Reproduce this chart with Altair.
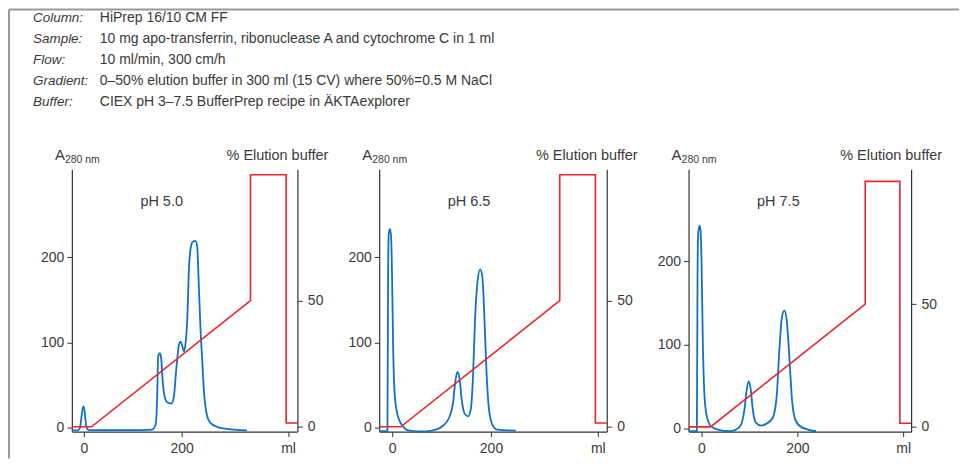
import altair as alt
import pandas as pd

FONT = "Liberation Sans"
BLUE = "#1271c4"
RED = "#e8262b"
INK = "#3a3a3a"

header_keys = ["Column:", "Sample:", "Flow:", "Gradient:", "Buffer:"]
header_values = [
    "HiPrep 16/10 CM FF",
    "10 mg apo-transferrin, ribonuclease A and cytochrome C in 1 ml",
    "10 ml/min, 300 cm/h",
    "0\u201350% elution buffer in 300 ml (15 CV) where 50%=0.5 M NaCl",
    "CIEX pH 3\u20137.5 BufferPrep recipe in \u00c4KTAexplorer",
]
panel_titles = ["pH 5.0", "pH 6.5", "pH 7.5"]
x_tick_labels = ["0", "200", "ml"]

# ---- pH 5.0 : A280 trace ----
p1_ml = [-24.5, -12, -8, -5, -2.5, -0.7, 1.5, 4, 7.5, 12, 60, 120, 140, 147, 150.3, 152, 155.8, 158.5,
         161.2, 165.3, 170.7, 179, 184.4, 187.8, 191, 194.6, 198, 201.4, 204.8, 208.2, 211.6, 215,
         218.4, 223, 228.6, 232, 235.4, 238.8, 242.2, 245.6, 252.4, 259, 272.8, 293, 320, 334]
p1_a = [-2.7, -2.7, 0, 12, 23, 25.4, 20, 6, -1.5, -2.5, -2.5, -2.5, -2, 4, 41, 83.7, 87.7, 80,
        56, 37, 30, 28.5, 37, 60, 80, 97.3, 101, 96, 89.6, 99, 126, 185,
        210, 218, 219, 212, 165, 115, 80, 44.6, 13.7, 6, 1.3, -1, -2.5, -2.7]

# ---- pH 6.5 ----
p2_ml = [-26, -9.4, -8.1, -6.7, -4, -2, 0, 2, 4.7, 8.8, 14.1, 20.9, 31, 47.8, 68, 88, 101.7, 115,
         123.2, 127.3, 132, 136.7, 140.8, 146.8, 153.5, 159, 163.6, 167.7, 172.4, 178, 182.5,
         186.6, 190.7, 196, 202.7, 212.8, 250]
p2_a = [-3.8, -3.8, 177, 227.8, 232.8, 224, 177, 99.2, 45, 21.5, 9.8, 2.8, -2.6, -3.9, -3.9, -2, 2, 11.7,
        29, 52, 65.5, 56.4, 33, 16.8, 13.7, 21.5, 60, 126.5, 169.4, 185.7, 177,
        130, 68, 21.5, 4, -2, -3]

# ---- pH 7.5 ----
p3_ml = [-27, -9.7, -8.3, -6.9, -4.2, -2.1, 0, 2.8, 5.6, 9.7, 15.3, 20, 34, 58, 72, 82.6, 89.6, 94.4,
         98.6, 102.8, 107, 113.9, 124.3, 134.7, 148.6, 156.9, 162.5, 168, 173, 177.8, 183.3, 188.9,
         195.8, 207.6, 239]
p3_a = [-3.2, -3.2, 181.7, 233.5, 242.7, 237.5, 201.7, 102, 46.5, 18.7, 6.7, 2.8, -1.2, -3.2, -1.2, 4.8, 22.7, 46.5,
        56.5, 46.5, 22.7, 6.8, 3.6, 5.6, 12.7, 38.5, 94.1, 133.9, 141, 130, 86, 34.5,
        10.7, 2, -3.2]

# ---- % elution buffer (gradient) ----
p1_grad_ml = [-24.5, 15.7, 341, 341, 414, 414, 437]
p1_grad_pct = [0, 0, 50, 100, 100, 1.5, 1.5]
p2_grad_ml = [-26, 17.5, 339, 339, 411, 411, 434]
p2_grad_pct = [0, 0, 50, 100, 100, 1.5, 1.5]
p3_grad_ml = [-27, 18.75, 341.7, 341.7, 414, 414, 437.5]
p3_grad_pct = [0, 0, 50, 100, 100, 1.5, 1.5]

ml_tick_pos = [418, 416, 421]
x_domains = [[-24.5, 437], [-26, 434], [-27, 437.5]]
a_domains = [[-4.2, 302.9], [-4.2, 302.9], [-3.6, 310.2]]
pct_domains = [[-1.9, 102.2], [-1.9, 102.2], [-1.9, 105.0]]
widths = [226, 228, 223]
H = 263

axis_common = dict(
    title=None, grid=False, labelFont=FONT, labelFontSize=14, labelColor=INK,
    domainColor="#333", tickColor="#333", tickSize=5, domainWidth=1.2, tickWidth=1,
    labelFlush=False, labelOverlap=False,
)


def one():
    return alt.Data(values=[{}])


def panel(k, ml, a, gml, gpct, title, header=False):
    w = widths[k]
    tick = ml_tick_pos[k]
    blue_df = pd.DataFrame({"ml": ml, "a": a, "i": range(len(ml))})
    red_df = pd.DataFrame({"ml": gml, "pct": gpct, "i": range(len(gml))})
    xs = alt.Scale(domain=x_domains[k], nice=False, zero=False)
    xaxis = alt.Axis(
        values=[0, 200, tick], labelPadding=5,
        labelExpr=f"datum.value == 0 ? '{x_tick_labels[0]}' : datum.value == 200 ? '{x_tick_labels[1]}' : '{x_tick_labels[2]}'",
        **axis_common,
    )
    blue = alt.Chart(blue_df).mark_line(color=BLUE, strokeWidth=1.8, interpolate="monotone").encode(
        x=alt.X("ml:Q", scale=xs, axis=xaxis),
        y=alt.Y("a:Q", scale=alt.Scale(domain=a_domains[k], nice=False, zero=False),
                axis=alt.Axis(orient="left", values=[0, 100, 200], labelPadding=3, **axis_common)),
        order="i:Q",
    )
    red = alt.Chart(red_df).mark_line(color=RED, strokeWidth=1.6).encode(
        x=alt.X("ml:Q", scale=xs),
        y=alt.Y("pct:Q", scale=alt.Scale(domain=pct_domains[k], nice=False, zero=False),
                axis=alt.Axis(orient="right", values=[0, 50], labelPadding=5, **axis_common)),
        order="i:Q",
    )
    a_lbl = alt.Chart(one()).mark_text(text="A", font=FONT, fontSize=15, color=INK, align="left",
                                        baseline="alphabetic").encode(x=alt.value(-17), y=alt.value(-9))
    sub_lbl = alt.Chart(one()).mark_text(text="280 nm", font=FONT, fontSize=10.5, color=INK, align="left",
                                          baseline="alphabetic").encode(x=alt.value(-7), y=alt.value(-6))
    pct_lbl = alt.Chart(one()).mark_text(text="% Elution buffer", font=FONT, fontSize=14.5, color=INK,
                                          align="right", baseline="alphabetic").encode(
        x=alt.value(w + 31), y=alt.value(-9))
    ph_lbl = alt.Chart(one()).mark_text(text=title, font=FONT, fontSize=14.5, color=INK, align="center",
                                         baseline="middle").encode(x=alt.value(90), y=alt.value(33))
    layers = [blue, red, a_lbl, sub_lbl, pct_lbl, ph_lbl]
    if header:
        keys = alt.Chart(one()).mark_text(text=header_keys, font=FONT, fontSize=13.5, fontStyle="italic",
                                           color=INK, align="left", baseline="alphabetic",
                                           lineHeight=21).encode(x=alt.value(-39), y=alt.value(-147.5))
        vals = alt.Chart(one()).mark_text(text=header_values, font=FONT, fontSize=14, color=INK,
                                           align="left", baseline="alphabetic",
                                           lineHeight=21).encode(x=alt.value(28), y=alt.value(-147.5))
        top = alt.Chart(one()).mark_rule(color="#9a9a9a", strokeWidth=2).encode(
            x=alt.value(-63), x2=alt.value(889), y=alt.value(-160))
        left = alt.Chart(one()).mark_rule(color="#9a9a9a", strokeWidth=2).encode(
            x=alt.value(-63), y=alt.value(-160), y2=alt.value(290))
        layers += [keys, vals, top, left]
    return alt.layer(*layers).resolve_scale(y="independent").properties(width=w, height=H)


c1 = panel(0, p1_ml, p1_a, p1_grad_ml, p1_grad_pct, panel_titles[0], header=True)
c2 = panel(1, p2_ml, p2_a, p2_grad_ml, p2_grad_pct, panel_titles[1])
c3 = panel(2, p3_ml, p3_a, p3_grad_ml, p3_grad_pct, panel_titles[2])

chart = alt.hconcat(c1, c2, c3, spacing=82, bounds="flush", padding=0).configure_view(stroke=None)

chart.save("out.html", embed_options={"renderer": "svg", "actions": False})
